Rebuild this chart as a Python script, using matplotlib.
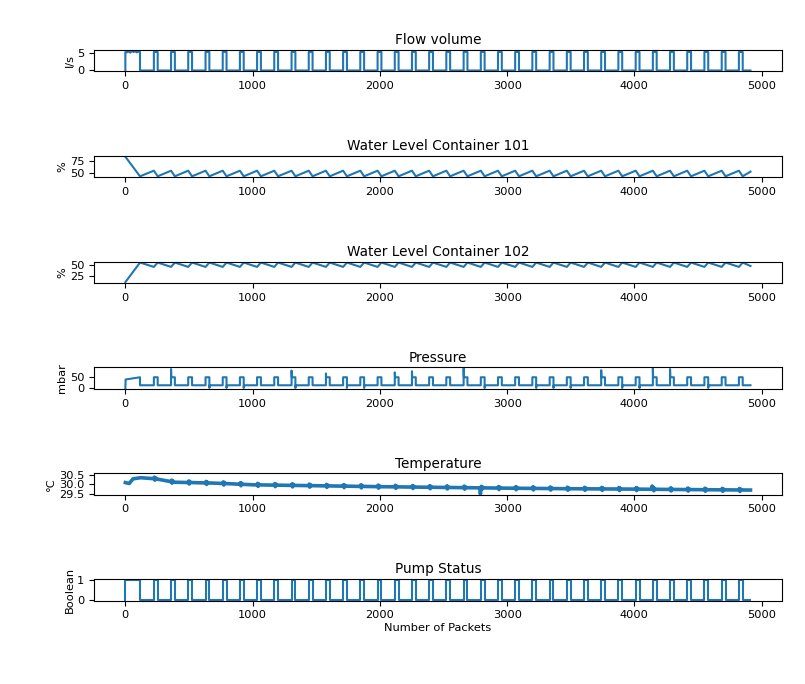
import numpy as np
import matplotlib
matplotlib.use("Agg")
import matplotlib.pyplot as plt

plt.rcParams["font.size"] = 8.2

# ---------------- data ----------------
n_packets = 4912
first_on_end = 115                      # pump on from 0 to here at start
pump_starts = [224, 359, 494, 630, 765, 900, 1035, 1170, 1306, 1441, 1576, 1711,
               1846, 1982, 2117, 2252, 2387, 2522, 2658, 2793, 2928, 3063, 3198,
               3334, 3469, 3604, 3739, 3874, 4010, 4145, 4280, 4415, 4550, 4686, 4821]
pump_len = 30

flow_on = 5.2
flow_first = [5.1, 5.4, 5.0, 5.5, 5.2, 5.4, 5.1, 5.3]   # wiggle during first run

lvl101_start, lvl101_low, lvl101_high, lvl101_end = 85, 43, 55, 53
lvl102_start, lvl102_low, lvl102_high, lvl102_end = 10, 45, 55, 47

p_base, p_on, p_first_lo, p_first_hi = 12, 48, 38, 48
p_up = [48, 85, 48, 48, 48, 48, 48, 48, 78, 48, 65, 48, 48, 48, 70, 75, 48, 48,
        88, 48, 48, 48, 48, 48, 48, 48, 80, 48, 48, 88, 85, 48, 48, 48, 48]
p_down = [12, 12, 12, 0, 0, 0, 12, 12, 0, 12, 12, 0, 0, 12, 12, 12, 12, 12,
          12, 0, 12, 12, 0, 0, 0, 12, 12, 0, 0, 12, 12, 12, 0, 12, 12]

temp_x = [0, 30, 60, 120, 240, 380, 700, 1000, 1500, 2000, 2500, 3000, 3500, 4000, 4500, 4912]
temp_y = [30.10, 30.05, 30.30, 30.36, 30.30, 30.12, 30.07, 29.98, 29.93, 29.88,
          29.84, 29.80, 29.77, 29.75, 29.72, 29.70]
temp_blob = 0.08
temp_spikes_x = [2790, 4140]
temp_spikes_y = [29.50, 29.90]

titles = ["Flow volume", "Water Level Container 101", "Water Level Container 102",
          "Pressure", "Temperature", "Pump Status"]
ylabels = ["l/s", "%", "%", "mbar", "°C", "Boolean"]

# ---------------- build vertex series ----------------
def step_series(on, off, first_vals=None):
    xs, ys = [0, 0], [off, on]
    if first_vals:
        seg = np.linspace(0, first_on_end, len(first_vals) + 2)[1:-1]
        xs += list(seg); ys += first_vals
    xs += [first_on_end, first_on_end]; ys += [on, off]
    for s in pump_starts:
        xs += [s, s, s + pump_len, s + pump_len]
        ys += [off, on, on, off]
    xs.append(n_packets); ys.append(off)
    return xs, ys

flow_x, flow_y = step_series(flow_on, 0.0, flow_first)
pump_x, pump_y = step_series(1, 0)

l1x, l1y = [0, first_on_end], [lvl101_start, lvl101_low]
l2x, l2y = [0, first_on_end], [lvl102_start, lvl102_high]
for s in pump_starts:
    l1x += [s, s + pump_len]; l1y += [lvl101_high, lvl101_low]
    l2x += [s, s + pump_len]; l2y += [lvl102_low, lvl102_high]
l1x.append(n_packets); l1y.append(lvl101_end)
l2x.append(n_packets); l2y.append(lvl102_end)

px, py = [0, 2, first_on_end, first_on_end], [0, p_first_lo, p_first_hi, p_base]
for s, up, dn in zip(pump_starts, p_up, p_down):
    e = s + pump_len
    px += [s, s, s + 2, e, e, e + 2]
    py += [p_base, up, p_on, p_on, dn, p_base]
px.append(n_packets); py.append(p_base)

tx, ty = [], []
events = sorted(set(pump_starts + temp_spikes_x + temp_x))
for x in events:
    base = np.interp(x, temp_x, temp_y)
    if x in temp_spikes_x:
        tx += [x, x, x]; ty += [base, temp_spikes_y[temp_spikes_x.index(x)], base]
    elif x in pump_starts:
        tx += [x, x + 4, x + 8, x + 12, x + 16]
        ty += [base, base + temp_blob, base - temp_blob, base + temp_blob * 0.7, base]
    else:
        tx.append(x); ty.append(base)

series = [(flow_x, flow_y), (l1x, l1y), (l2x, l2y), (px, py), (tx, ty), (pump_x, pump_y)]

# ---------------- plot ----------------
fig, axes = plt.subplots(6, 1, figsize=(8.05, 6.84), dpi=100)
fig.subplots_adjust(left=0.117, right=0.971, top=0.927, bottom=0.122, hspace=3.92)
for i, (ax, (x, y)) in enumerate(zip(axes, series)):
    lw = 2.6 if i == 4 else 1.5
    ax.plot(x, y, color="#1f77b4", lw=lw)
    ax.set_title(titles[i], pad=4)
    ax.set_ylabel(ylabels[i], labelpad=2)
    ax.set_xlim(-245, 5157)
axes[0].set_yticks([0, 5])
axes[1].set_yticks([50, 75])
axes[2].set_yticks([25, 50])
axes[3].set_yticks([0, 50])
axes[4].set_yticks([29.5, 30.0, 30.5])
axes[4].set_ylim(29.45, 30.6)
axes[5].set_yticks([0, 1])
axes[5].set_xlabel("Number of Packets", labelpad=2)

fig.savefig("out.png", dpi=100)
